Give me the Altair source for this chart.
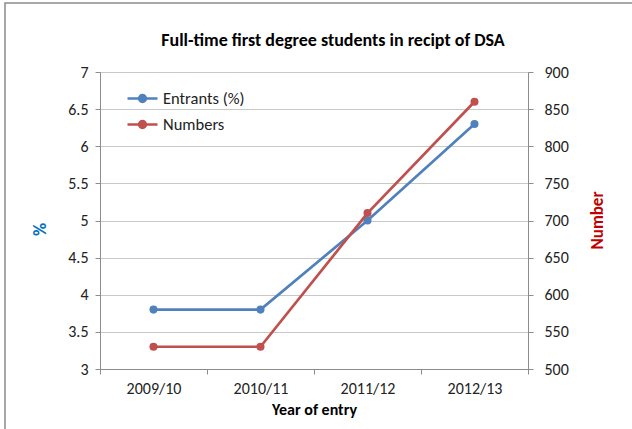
import altair as alt
import pandas as pd

years = ["2009/10", "2010/11", "2011/12", "2012/13"]
entrants_pct = [3.8, 3.8, 5.0, 6.3]
numbers = [530, 530, 710, 860]
series_names = ["Entrants (%)", "Numbers"]
series_colors = ["#4F81BD", "#C0504D"]

FONT = "Carlito, Calibri, Lato, sans-serif"

df = pd.DataFrame({
    "year": years * 2,
    "series": [series_names[0]] * 4 + [series_names[1]] * 4,
    "value": entrants_pct + numbers,
})

color = alt.Color(
    "series:N",
    scale=alt.Scale(domain=series_names, range=series_colors),
    legend=alt.Legend(
        title=None, orient="none", legendX=26, legendY=10,
        symbolType="M-1,0H1M-0.22,0A0.22,0.22,0,1,1,0.22,0A0.22,0.22,0,1,1,-0.22,0Z",
        symbolSize=900, symbolStrokeWidth=2.7, rowPadding=0,
        labelFontSize=16.5, labelFont=FONT, labelColor="#222", labelOffset=4,
        padding=0,
    ),
)

x = alt.X(
    "year:N", sort=years, title="Year of entry",
    scale=alt.Scale(paddingInner=0, paddingOuter=0),
    axis=alt.Axis(
        labelAngle=0, tickBand="extent", grid=False,
        domainColor="#8c8c8c", tickColor="#8c8c8c", tickSize=5,
        labelFont=FONT, labelFontSize=16, labelColor="#222", labelPadding=6,
        titleFont=FONT, titleFontSize=16, titleFontWeight="bold", titleColor="#000",
        titlePadding=5,
    ),
)

base = alt.Chart(df)

left = base.transform_filter(alt.datum.series == series_names[0]).mark_line(
    point=alt.OverlayMarkDef(size=65, filled=True), strokeWidth=2.7
).encode(
    x=x,
    y=alt.Y(
        "value:Q", title="%",
        scale=alt.Scale(domain=[3, 7], nice=False, zero=False),
        axis=alt.Axis(
            values=[3, 3.5, 4, 4.5, 5, 5.5, 6, 6.5, 7], orient="left", format="~g",
            grid=True, gridColor="#c8c8c8", domainColor="#8c8c8c",
            tickColor="#8c8c8c", tickSize=5,
            labelFont=FONT, labelFontSize=16, labelColor="#222", labelPadding=7,
            titleFont=FONT, titleFontSize=18, titleFontWeight="bold",
            titleColor="#0070C0", titleAngle=-90, titleX=-60, titleY=157,
            titleBaseline="middle",
        ),
    ),
    color=color,
)

right = base.transform_filter(alt.datum.series == series_names[1]).mark_line(
    point=alt.OverlayMarkDef(size=65, filled=True), strokeWidth=2.7
).encode(
    x=x,
    y=alt.Y(
        "value:Q", title="Number",
        scale=alt.Scale(domain=[500, 900], nice=False, zero=False),
        axis=alt.Axis(
            values=list(range(500, 901, 50)), orient="right", grid=False,
            domainColor="#8c8c8c", tickColor="#8c8c8c", tickSize=5,
            labelFont=FONT, labelFontSize=16, labelColor="#222", labelPadding=11,
            titleFont=FONT, titleFontSize=17, titleFontWeight="bold",
            titleColor="#C00000", titleAngle=-90, titleX=69, titleY=148,
            titleBaseline="middle",
        ),
    ),
    color=color,
)

frame = alt.Chart(pd.DataFrame({"a": [0]})).mark_rect(
    fill=None, stroke="#8c8c8c", strokeWidth=1.5
).encode(
    x=alt.value(-95), x2=alt.value(700), y=alt.value(-69), y2=alt.value(500)
)

chart = alt.layer(frame, left, right).resolve_scale(y="independent").properties(
    width=428, height=297,
    autosize=alt.AutoSizeParams(type="none"),
    padding={"left": 100, "top": 72, "right": 104, "bottom": 60},
    title=alt.Title(
        "Full-time first degree students in recipt of DSA",
        font=FONT, fontSize=18, fontWeight="bold", color="#000",
        anchor="middle", dx=19, offset=0, dy=48,
    ),
).configure_view(stroke=None).configure(background="white")

chart.save("out.html", embed_options={"renderer": "svg", "actions": False})
